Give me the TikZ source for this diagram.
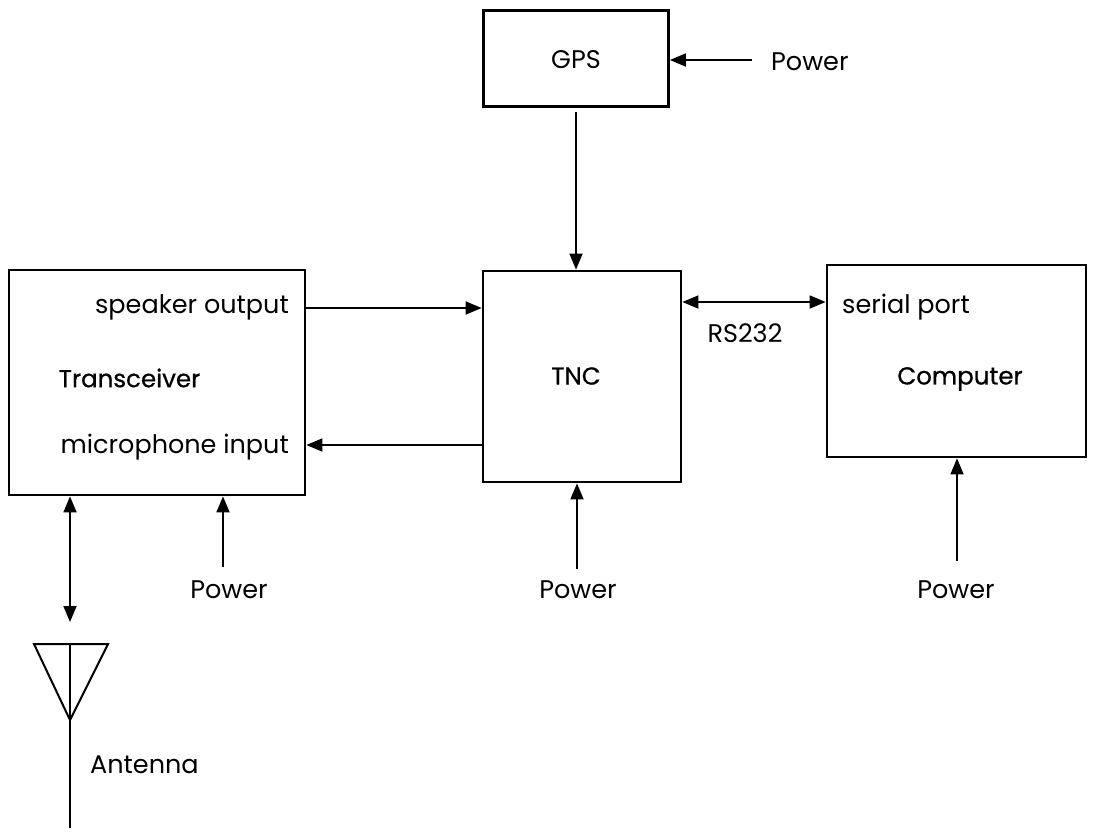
\documentclass[tikz,border=0pt]{standalone}
\usepackage{fontspec}
\setmainfont{Poppins}
\newfontfamily\titlefont{Poppins}[FakeBold=0.7]
\usetikzlibrary{arrows.meta}
\begin{document}
\begin{tikzpicture}[x=1pt,y=-1pt,
  blk/.style={draw,line width=2.8pt,inner sep=0pt},
  conn/.style={line width=1.8pt,-{Triangle[length=16pt,width=13pt]}},
  bconn/.style={line width=1.8pt,{Triangle[length=16pt,width=13pt]}-{Triangle[length=16pt,width=13pt]}},
  lbl/.style={font=\fontsize{25.5}{30}\selectfont,inner sep=0pt},
  tlbl/.style={font=\titlefont\fontsize{24.5}{30}\selectfont,inner sep=0pt}]
\useasboundingbox (0,0) rectangle (1099,831);
% boxes
\node[blk,minimum width=185pt,minimum height=96pt] (gps) at (576,58.5) {};
\node[blk,minimum width=198pt,minimum height=211pt] (tnc) at (582,376.5) {};
\node[blk,minimum width=296pt,minimum height=225pt] (trx) at (157,382.5) {};
\node[blk,minimum width=259pt,minimum height=192pt] (comp) at (956.5,361) {};
% labels
\node[lbl] (gpst) at (576,60) {GPS};
\node[tlbl] (tnct) at (576,376) {TNC};
\node[tlbl] (trxt) at (129.5,378) {Transceiver};
\node[tlbl] (compt) at (960,379) {Computer};
\node[lbl,anchor=east] (spk) at (289,307) {speaker output};
\node[lbl,anchor=east] (mic) at (289,447) {microphone input};
\node[lbl,anchor=west] (ser) at (842,307) {serial port};
\node[lbl] (rs) at (745,333) {RS232};
\node[lbl,anchor=west] (pgps) at (771,62) {Power};
\node[lbl] (ptrx) at (229,590) {Power};
\node[lbl] (ptnc) at (578,590) {Power};
\node[lbl] (pcomp) at (956,590) {Power};
\node[lbl,anchor=west] (ant) at (90,765) {Antenna};
% coordinates
\coordinate (pgpsS) at (752,60);
\coordinate (ptrxS) at (223,567);
\coordinate (ptncS) at (577,569);
\coordinate (pcompS) at (957,561);
\coordinate (antT) at (70,622);
% connectors
\draw[conn] (pgpsS) -- (pgpsS -| gps.east);
\draw[conn] (576,112) -- (576,0 |- tnc.north);
\draw[conn] (trx.east |- 0,308) -- (tnc.west |- 0,308);
\draw[conn] (tnc.west |- 0,445) -- (trx.east |- 0,445);
\draw[bconn] (tnc.east |- 0,302) -- (comp.west |- 0,302);
\draw[conn] (ptrxS) -- (ptrxS |- trx.south);
\draw[conn] (ptncS) -- (ptncS |- tnc.south);
\draw[conn] (pcompS) -- (pcompS |- comp.south);
\draw[bconn] (antT |- trx.south) -- (antT);
% antenna
\draw[line width=2pt] (34,644) -- (108,644) -- (70,720) -- cycle;
\draw[line width=2pt] (70,644) -- (70,828);
\end{tikzpicture}
\end{document}
